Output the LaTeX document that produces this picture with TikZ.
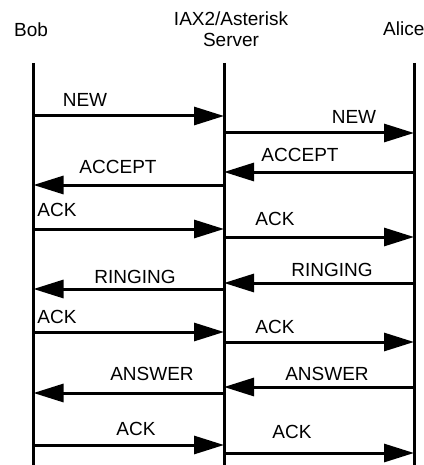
\documentclass[tikz,border=0pt]{standalone}
\usepackage{fontspec}
\setmainfont{Liberation Sans}
\usetikzlibrary{arrows.meta}

\begin{document}
\begin{tikzpicture}[
    x=1pt, y=-1pt,
    >={Triangle[length=30pt, width=18pt]},
    lifeline/.style={line width=3pt},
    msg/.style={->, line width=3pt},
    who/.style={font=\fontsize{19}{21}\selectfont, align=center, inner sep=0pt},
    lbl/.style={font=\fontsize{19}{21}\selectfont, inner sep=0pt},
]
    \useasboundingbox (0,0) rectangle (423,465);

    % Participants
    \node[who] (bob) at (31,30) {Bob};
    \node[who] (server) at (231,29) {IAX2/Asterisk\\Server};
    \node[who, anchor=west] (alice) at (383,29) {Alice};

    % Lifelines
    \coordinate (bobTop) at (33.5,63);
    \coordinate (bobEnd) at (33.5,465);
    \coordinate (srvTop) at (224,63);
    \coordinate (srvEnd) at (224,465);
    \coordinate (aliTop) at (414,63);
    \coordinate (aliEnd) at (414,465);
    \draw[lifeline] (bobTop) -- (bobEnd);
    \draw[lifeline] (srvTop) -- (srvEnd);
    \draw[lifeline] (aliTop) -- (aliEnd);

    % NEW
    \coordinate (bNew) at (33.5,116);   \coordinate (sNewL) at (224,116);
    \coordinate (sNewR) at (224,133);   \coordinate (aNew) at (414,133);
    \draw[msg] (bNew) -- (sNewL);
    \draw[msg] (sNewR) -- (aNew);
    \node[lbl] (newL) at (85,99.5) {NEW};
    \node[lbl] (newR) at (354,116.5) {NEW};

    % ACCEPT
    \coordinate (aAcc) at (414,172);    \coordinate (sAccR) at (224,172);
    \coordinate (sAccL) at (224,185);   \coordinate (bAcc) at (33.5,185);
    \draw[msg] (aAcc) -- (sAccR);
    \draw[msg] (sAccL) -- (bAcc);
    \node[lbl] (accR) at (300,154.5) {ACCEPT};
    \node[lbl] (accL) at (118,166.5) {ACCEPT};

    % ACK
    \coordinate (bAck1) at (33.5,229);  \coordinate (sAck1L) at (224,229);
    \coordinate (sAck1R) at (224,237);  \coordinate (aAck1) at (414,237);
    \draw[msg] (bAck1) -- (sAck1L);
    \draw[msg] (sAck1R) -- (aAck1);
    \node[lbl] (ack1L) at (57,210) {ACK};
    \node[lbl] (ack1R) at (275,219) {ACK};

    % RINGING
    \coordinate (aRing) at (414,283);   \coordinate (sRingR) at (224,283);
    \coordinate (sRingL) at (224,289);  \coordinate (bRing) at (33.5,289);
    \draw[msg] (aRing) -- (sRingR);
    \draw[msg] (sRingL) -- (bRing);
    \node[lbl] (ringR) at (332,270) {RINGING};
    \node[lbl] (ringL) at (135,277) {RINGING};

    % ACK
    \coordinate (bAck2) at (33.5,332);  \coordinate (sAck2L) at (224,332);
    \coordinate (sAck2R) at (224,342);  \coordinate (aAck2) at (414,342);
    \draw[msg] (bAck2) -- (sAck2L);
    \draw[msg] (sAck2R) -- (aAck2);
    \node[lbl] (ack2L) at (57,317) {ACK};
    \node[lbl] (ack2R) at (275,327) {ACK};

    % ANSWER
    \coordinate (aAns) at (414,387);    \coordinate (sAnsR) at (224,387);
    \coordinate (sAnsL) at (224,393);   \coordinate (bAns) at (33.5,393);
    \draw[msg] (aAns) -- (sAnsR);
    \draw[msg] (sAnsL) -- (bAns);
    \node[lbl] (ansR) at (327,373.5) {ANSWER};
    \node[lbl] (ansL) at (152,373.5) {ANSWER};

    % ACK
    \coordinate (bAck3) at (33.5,445);  \coordinate (sAck3L) at (224,445);
    \coordinate (sAck3R) at (224,453);  \coordinate (aAck3) at (414,453);
    \draw[msg] (bAck3) -- (sAck3L);
    \draw[msg] (sAck3R) -- (aAck3);
    \node[lbl] (ack3L) at (136,428.5) {ACK};
    \node[lbl] (ack3R) at (292,431.5) {ACK};
\end{tikzpicture}
\end{document}
